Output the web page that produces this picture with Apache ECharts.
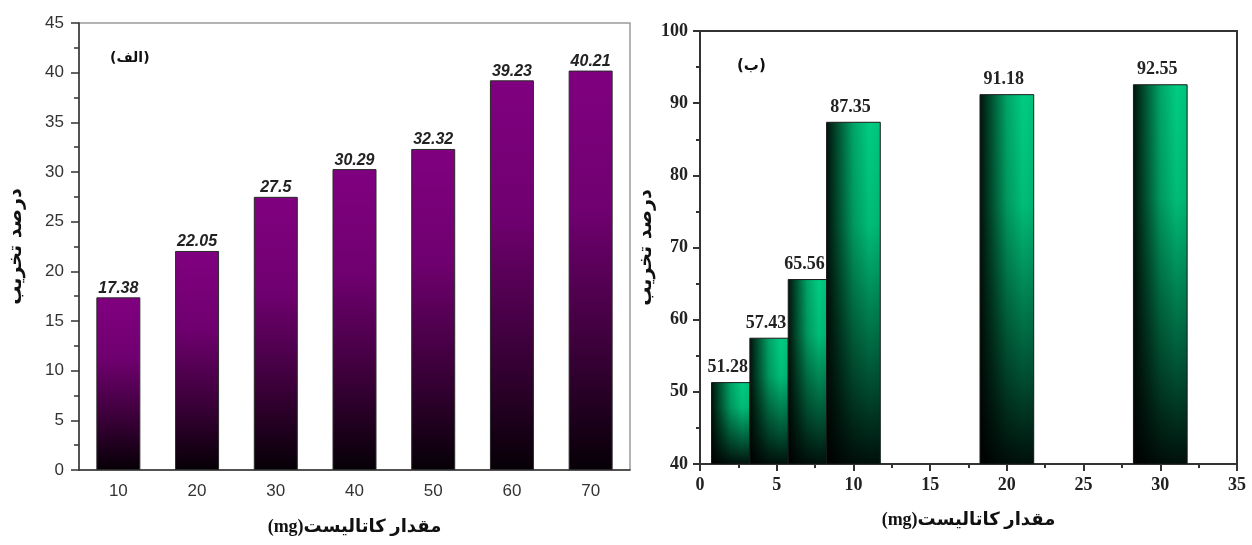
<!DOCTYPE html>
<html>
<head>
<meta charset="utf-8">
<script src="https://cdn.jsdelivr.net/npm/echarts@6/dist/echarts.min.js"></script>
<style>
html,body{margin:0;padding:0;background:#fff;}
#c{width:1252px;height:545px;}
</style>
</head>
<body>
<div id="c"></div>
<script>
// ---- Data: panel (الف) ----
const catA = ['10', '20', '30', '40', '50', '60', '70'];
const valA = [17.38, 22.05, 27.5, 30.29, 32.32, 39.23, 40.21];
// ---- Data: panel (ب) ----
const xB = [2, 4.5, 7, 10, 20, 30];
const valB = [51.28, 57.43, 65.56, 87.35, 91.18, 92.55];

const yTitle = 'درصد تخریب';
const xTitle = '(mg)مقدار کاتالیست';
const panelA = '(الف)';
const panelB = '(ب)';

const sansFont = '"Liberation Sans", Arial, "DejaVu Sans"';
const serifFont = '"Liberation Serif", "DejaVu Serif", "DejaVu Sans"';
const arabicFont = '"DejaVu Sans", "Noto Sans"';

const chart = echarts.init(document.getElementById('c'), null, {renderer: 'canvas'});

const purpleGrad = new echarts.graphic.LinearGradient(0, 0, 0, 1, [
  {offset: 0, color: '#800080'},
  {offset: 0.35, color: '#700070'},
  {offset: 0.7, color: '#3a0038'},
  {offset: 1, color: '#060006'}
]);

function renderB(params, api) {
  const x = api.value(0), y = api.value(1);
  const w = params.dataIndex < 3 ? 2.5 : 3.5;
  const p0 = api.coord([x - w / 2, y]);
  const p1 = api.coord([x + w / 2, 40]);
  const shape = {x: p0[0], y: p0[1], width: p1[0] - p0[0], height: p1[1] - p0[1]};
  return {
    type: 'group',
    children: [
      {type: 'rect', shape: shape, style: {
        fill: new echarts.graphic.LinearGradient(0, 0, 1, 0, [
          {offset: 0, color: '#00140b'},
          {offset: 0.5, color: '#00a466'},
          {offset: 0.8, color: '#00cc82'},
          {offset: 1, color: '#00c27b'}
        ])}},
      {type: 'rect', shape: shape, style: {
        fill: new echarts.graphic.LinearGradient(0, 0, 0, 1, [
          {offset: 0, color: 'rgba(0,0,0,0)'},
          {offset: 0.3, color: 'rgba(0,0,0,0.08)'},
          {offset: 0.75, color: 'rgba(0,0,0,0.6)'},
          {offset: 1, color: 'rgba(0,0,0,0.92)'}
        ]),
        stroke: '#1a1a1a', lineWidth: 1}},
      {type: 'text', style: {
        text: y.toFixed(2), x: (p0[0] + p1[0]) / 2 - 3, y: p0[1] - 6,
        align: 'center', verticalAlign: 'bottom',
        font: 'bold 18px ' + serifFont, fill: '#222'}}
    ]
  };
}

const option = {
  backgroundColor: '#fff',
  animation: false,
  grid: [
    {left: 79, top: 23, width: 551, height: 447, show: true, borderColor: '#9a9a9a', borderWidth: 1.5, backgroundColor: 'transparent'},
    {left: 700, top: 31, width: 537, height: 433, show: true, borderColor: '#333', borderWidth: 2, backgroundColor: 'transparent'}
  ],
  xAxis: [
    {
      type: 'category', gridIndex: 0, data: catA, boundaryGap: true,
      axisLine: {lineStyle: {color: '#333', width: 1.5}},
      axisTick: {alignWithLabel: true, length: 7, lineStyle: {color: '#333', width: 1.5}},
      axisLabel: {color: '#333', fontSize: 17, fontFamily: sansFont, margin: 13},
      splitLine: {show: false},
      name: xTitle, nameLocation: 'middle', nameGap: 48,
      nameTextStyle: {fontFamily: serifFont, fontWeight: 'bold', fontSize: 18, color: '#111'}
    },
    {
      type: 'category', gridIndex: 0, data: catA, boundaryGap: true, position: 'bottom',
      axisLine: {show: false},
      axisTick: {alignWithLabel: false, length: 4, lineStyle: {color: '#333', width: 1.5}},
      axisLabel: {show: false}, splitLine: {show: false}
    },
    {
      type: 'value', gridIndex: 1, min: 0, max: 35, interval: 5,
      axisLine: {show: true, lineStyle: {color: '#333', width: 2}},
      axisTick: {show: true, length: 7, lineStyle: {color: '#333', width: 2}},
      minorTick: {show: true, splitNumber: 2, length: 4, lineStyle: {color: '#333', width: 2}},
      axisLabel: {color: '#222', fontSize: 18, fontWeight: 'bold', fontFamily: serifFont, margin: 12},
      splitLine: {show: false},
      name: xTitle, nameLocation: 'middle', nameGap: 47,
      nameTextStyle: {fontFamily: serifFont, fontWeight: 'bold', fontSize: 18, color: '#111'}
    }
  ],
  yAxis: [
    {
      type: 'value', gridIndex: 0, min: 0, max: 45, interval: 5,
      axisLine: {show: true, lineStyle: {color: '#333', width: 1.5}},
      axisTick: {show: true, length: 8, lineStyle: {color: '#333', width: 1.5}},
      minorTick: {show: true, splitNumber: 2, length: 5, lineStyle: {color: '#333', width: 1.5}},
      axisLabel: {color: '#333', fontSize: 17, fontFamily: sansFont, margin: 15},
      splitLine: {show: false},
      name: yTitle, nameLocation: 'middle', nameGap: 53, nameRotate: 90,
      nameTextStyle: {fontFamily: arabicFont, fontWeight: 'bold', fontSize: 19, color: '#111'}
    },
    {
      type: 'value', gridIndex: 1, min: 40, max: 100, interval: 10,
      axisLine: {show: true, lineStyle: {color: '#333', width: 2}},
      axisTick: {show: true, length: 7, lineStyle: {color: '#333', width: 2}},
      minorTick: {show: true, splitNumber: 2, length: 4, lineStyle: {color: '#333', width: 2}},
      axisLabel: {color: '#222', fontSize: 18, fontWeight: 'bold', fontFamily: serifFont, margin: 12},
      splitLine: {show: false},
      name: yTitle, nameLocation: 'middle', nameGap: 44, nameRotate: 90,
      nameTextStyle: {fontFamily: arabicFont, fontWeight: 'bold', fontSize: 19, color: '#111'}
    }
  ],
  series: [
    {
      type: 'bar', xAxisIndex: 0, yAxisIndex: 0, data: valA, barWidth: 44,
      itemStyle: {color: purpleGrad, borderColor: '#2a2a2a', borderWidth: 1},
      label: {show: true, position: 'top', distance: 1, fontStyle: 'italic', fontWeight: 'bold',
        fontSize: 16, fontFamily: sansFont, color: '#222', formatter: p => String(p.value)}
    },
    {
      type: 'custom', xAxisIndex: 2, yAxisIndex: 1,
      data: xB.map((x, i) => [x, valB[i]]),
      renderItem: renderB, clip: true
    }
  ],
  graphic: [
    {type: 'text', left: 110, top: 51, style: {text: panelA, font: 'bold 14px ' + arabicFont, fill: '#111'}},
    {type: 'text', left: 737, top: 59, style: {text: panelB, font: 'bold 15px ' + arabicFont, fill: '#111'}}
  ]
};
chart.setOption(option);
</script>
</body>
</html>
